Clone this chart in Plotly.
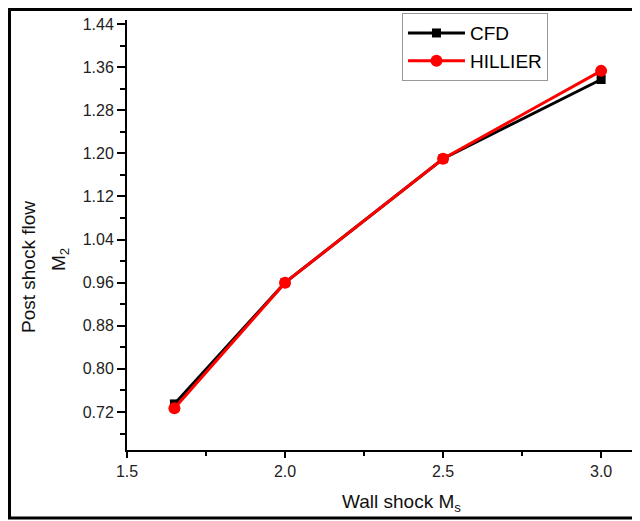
import plotly.graph_objects as go

mach_s = [1.65, 2.0, 2.5, 3.0]
cfd_m2 = [0.735, 0.96, 1.19, 1.337]
hillier_m2 = [0.727, 0.96, 1.19, 1.353]
x_ticks = [1.5, 2.0, 2.5, 3.0]
x_tick_labels = ["1.5", "2.0", "2.5", "3.0"]
y_ticks = [0.72, 0.80, 0.88, 0.96, 1.04, 1.12, 1.20, 1.28, 1.36, 1.44]
y_tick_labels = ["0.72", "0.80", "0.88", "0.96", "1.04", "1.12", "1.20", "1.28", "1.36", "1.44"]
x_title = "Wall shock M<sub>s</sub>"
y_title_lines = ["Post shock flow", "M<sub>2</sub>"]

FAM = "Liberation Sans, Arial, sans-serif"

fig = go.Figure()
fig.add_trace(go.Scatter(
    x=mach_s, y=cfd_m2, name="CFD", mode="lines+markers",
    line=dict(color="black", width=3),
    marker=dict(symbol="square", size=9, color="black"),
))
fig.add_trace(go.Scatter(
    x=mach_s, y=hillier_m2, name="HILLIER", mode="lines+markers",
    line=dict(color="#ff0000", width=3),
    marker=dict(symbol="circle", size=12, color="#ff0000"),
))

title_font = dict(family=FAM, size=19, color="#111111")

# open frame (left, top, bottom) around the whole figure, in paper units
fx0 = (1.5 - 119) / 513
fx1 = 1.05
fy0 = -(510 - 442) / 430
fy1 = 1 + (12 - 1.5) / 430
frame_path = f"M {fx1},{fy1} L {fx0},{fy1} L {fx0},{fy0} L {fx1},{fy0}"

fig.update_layout(
    width=632, height=513,
    margin=dict(l=119, r=0, t=12, b=71),
    paper_bgcolor="white", plot_bgcolor="white",
    font=dict(family=FAM, size=16, color="#222222"),
    showlegend=True,
    legend=dict(
        x=0.536, y=1.016, xanchor="left", yanchor="top",
        bordercolor="#999999", borderwidth=1, bgcolor="white",
        font=dict(family=FAM, size=19, color="black"),
        tracegroupgap=0, itemwidth=57,
    ),
    xaxis=dict(
        range=[1.5, 3.123], tickvals=x_ticks, ticktext=x_tick_labels,
        showgrid=False, zeroline=False,
        showline=True, linecolor="black", linewidth=2,
        ticks="outside", ticklen=6, tickwidth=2, tickcolor="black",
        minor=dict(dtick=0.25, tick0=1.5, ticks="outside", ticklen=4, tickwidth=2, tickcolor="black"),
        tickfont=dict(family=FAM, size=16, color="#222222"),
    ),
    yaxis=dict(
        range=[0.6495, 1.4474], tickvals=y_ticks, ticktext=y_tick_labels,
        showgrid=False, zeroline=False,
        showline=True, linecolor="black", linewidth=2,
        ticks="outside", ticklen=8, tickwidth=2, tickcolor="black",
        minor=dict(dtick=0.04, tick0=0.68, ticks="outside", ticklen=5, tickwidth=2, tickcolor="black"),
        tickfont=dict(family=FAM, size=16, color="#222222"),
    ),
    annotations=[
        dict(text=x_title, xref="paper", yref="paper", x=0.536, y=-0.123,
             xanchor="center", yanchor="middle", showarrow=False, font=title_font),
        dict(text=y_title_lines[0], xref="paper", yref="paper", x=-0.191, y=0.4256,
             xanchor="center", yanchor="middle", showarrow=False, textangle=-90, font=title_font),
        dict(text=y_title_lines[1], xref="paper", yref="paper", x=-0.1306, y=0.4419,
             xanchor="center", yanchor="middle", showarrow=False, textangle=-90, font=title_font),
    ],
    shapes=[
        dict(type="path", xref="paper", yref="paper", path=frame_path,
             line=dict(color="black", width=3), layer="below"),
    ],
)

fig.write_html("out.html")
